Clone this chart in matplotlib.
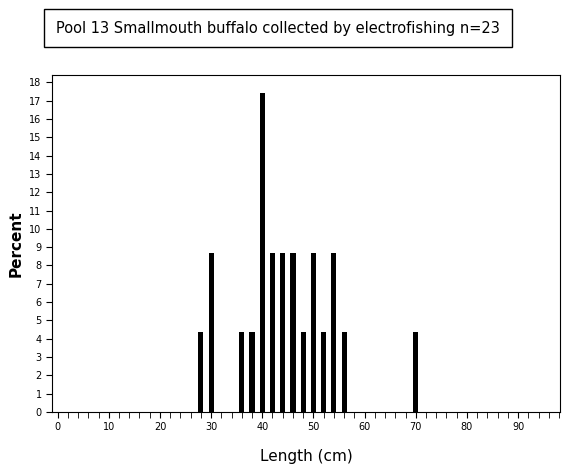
import matplotlib
matplotlib.use("Agg")
import matplotlib.pyplot as plt
from matplotlib.ticker import MultipleLocator

lengths = [28, 30, 36, 38, 40, 42, 44, 46, 48, 50, 52, 54, 56, 70]
counts = [1, 2, 1, 1, 4, 2, 2, 2, 1, 2, 1, 2, 1, 1]
n = 23
percent = [c / n * 100 for c in counts]

fig = plt.figure(figsize=(5.7, 4.75), dpi=100)
ax = fig.add_axes([52/570, 1-412/475, 508/570, 337/475])
ax.bar(lengths, percent, width=1.0, color="black")
ax.set_xlim(-1.1, 98.2)
ax.set_ylim(0, 18.4)
ax.xaxis.set_major_locator(MultipleLocator(10))
ax.xaxis.set_minor_locator(MultipleLocator(2))
ax.yaxis.set_major_locator(MultipleLocator(1))
ax.set_xticks(range(0, 100, 10))
ax.tick_params(labelsize=7, length=4)
ax.tick_params(which="minor", length=4)
ax.set_xlabel("Length (cm)", fontsize=11, labelpad=12)
ax.set_ylabel("Percent", fontsize=11, fontweight="bold")
fig.text(278/570, 1-28/475, "Pool 13 Smallmouth buffalo collected by electrofishing n=23",
         ha="center", va="center", fontsize=10.5,
         bbox=dict(boxstyle="square,pad=0.8", fc="white", ec="black"))
fig.savefig("out.png", dpi=100)
